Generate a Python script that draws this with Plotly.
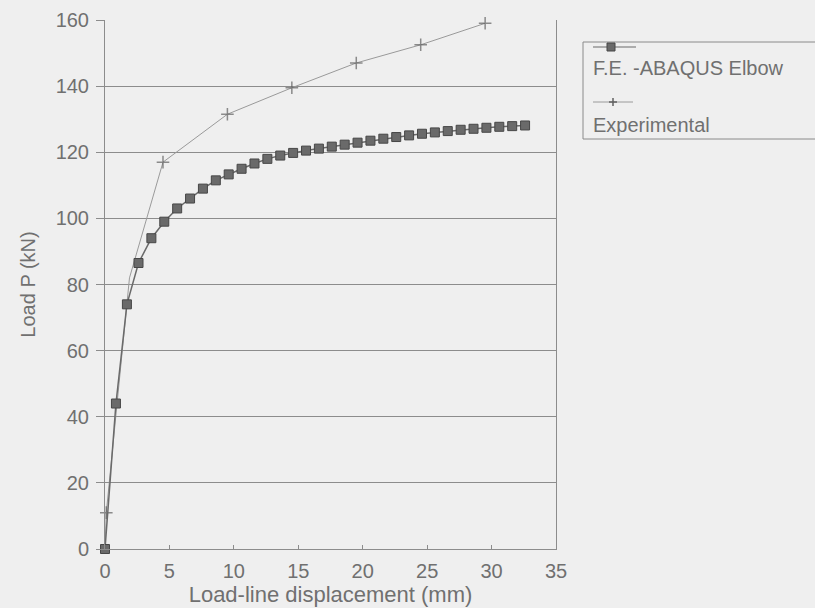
import plotly.graph_objects as go

# ---- data ----
fe_x = [0, 0.85, 1.7, 2.6, 3.6, 4.6, 5.6, 6.6, 7.6, 8.6, 9.6, 10.6, 11.6, 12.6,
        13.6, 14.6, 15.6, 16.6, 17.6, 18.6, 19.6, 20.6, 21.6, 22.6, 23.6, 24.6,
        25.6, 26.6, 27.6, 28.6, 29.6, 30.6, 31.6, 32.6]
fe_y = [0, 44, 74, 86.5, 94, 99, 103, 106, 109, 111.5, 113.3, 115, 116.6, 118,
        119, 119.8, 120.5, 121.1, 121.7, 122.3, 122.9, 123.5, 124.1, 124.6,
        125.1, 125.6, 126, 126.4, 126.8, 127.1, 127.4, 127.7, 127.9, 128.1]

exp_x = [0, 0.1, 1.9, 4.5, 9.5, 14.5, 19.5, 24.5, 29.5]
exp_y = [0, 11, 82, 117, 131.5, 139.5, 147, 152.5, 159]
exp_marked = [False, True, False, True, True, True, True, True, True]

x_ticks = [0, 5, 10, 15, 20, 25, 30, 35]
y_ticks = [0, 20, 40, 60, 80, 100, 120, 140, 160]

fe_name = "F.E. -ABAQUS Elbow"
exp_name = "Experimental"
x_title = "Load-line displacement (mm)"
y_title = "Load P (kN)"

# ---- layout geometry (page pixels; body margin removed in post_script) ----
W, H = 815, 608
L, R, T, B = 105, 556, 20, 549
def px(x):
    return (x - L) / (R - L)
def py(y):
    return (B - y) / (B - T)

FONT = "Liberation Sans, Arial, sans-serif"
TXT = "#707070"
GRID = "#8c8c8c"
BG = "#efefef"

fig = go.Figure()
fig.add_trace(go.Scatter(
    x=exp_x, y=exp_y, mode="lines+markers", name=exp_name,
    line=dict(color="#9a9a9a", width=1),
    marker=dict(symbol="cross-thin", size=[9 if m else 0 for m in exp_marked],
                line=dict(color="#606060", width=1.5), color="#606060"),
    cliponaxis=False, showlegend=False))
fig.add_trace(go.Scatter(
    x=fe_x, y=fe_y, mode="lines+markers", name=fe_name,
    line=dict(color="#6a6a6a", width=1.5),
    marker=dict(symbol="square", size=9, color="#6a6a6a",
                line=dict(color="#474747", width=1)),
    cliponaxis=False, showlegend=False))

fig.update_layout(
    width=W, height=H,
    margin=dict(l=L, r=W - R, t=T, b=H - B, autoexpand=False),
    paper_bgcolor=BG, plot_bgcolor=BG,
    font=dict(family=FONT, color=TXT, size=20),
    xaxis=dict(range=[0, 35], tickvals=x_ticks, ticks="inside", ticklen=4,
               tickcolor=GRID, showgrid=False, zeroline=False,
               showline=True, linecolor=GRID, linewidth=1,
               tickfont=dict(size=20, color=TXT), ticklabelstandoff=4,
               title=dict(text=x_title, font=dict(size=22, color=TXT), standoff=1)),
    yaxis=dict(range=[0, 160], tickvals=y_ticks, ticks="outside", ticklen=8,
               tickcolor=GRID, showgrid=True, gridcolor=GRID, gridwidth=1,
               zeroline=False, showline=True, linecolor=GRID, linewidth=1,
               mirror=True, tickfont=dict(size=20, color=TXT),
               ticklabelstandoff=3,
               title=dict(text=y_title, font=dict(size=20, color=TXT), standoff=14)),
)

# ---- manual legend (symbol line above its label, as in the reference) ----
shapes = [
    dict(type="rect", xref="paper", yref="paper", x0=px(583), x1=px(830),
         y0=py(139), y1=py(42), line=dict(color="#8a8a8a", width=1), fillcolor=BG,
         layer="below"),
    dict(type="line", xref="paper", yref="paper", x0=px(593), x1=px(636),
         y0=py(47), y1=py(47), line=dict(color="#6a6a6a", width=1.2)),
    dict(type="rect", xref="paper", yref="paper", x0=px(607), x1=px(615),
         y0=py(51), y1=py(43), line=dict(color="#474747", width=1),
         fillcolor="#6a6a6a"),
    dict(type="line", xref="paper", yref="paper", x0=px(593), x1=px(633),
         y0=py(102), y1=py(102), line=dict(color="#9a9a9a", width=1)),
    dict(type="line", xref="paper", yref="paper", x0=px(613), x1=px(613),
         y0=py(106), y1=py(98), line=dict(color="#606060", width=1.5)),
    dict(type="line", xref="paper", yref="paper", x0=px(609), x1=px(617),
         y0=py(102), y1=py(102), line=dict(color="#606060", width=1.5)),
]
annotations = [
    dict(xref="paper", yref="paper", x=px(591), y=py(68), text=fe_name,
         showarrow=False, xanchor="left", yanchor="middle",
         font=dict(family=FONT, size=20, color=TXT)),
    dict(xref="paper", yref="paper", x=px(591), y=py(125), text=exp_name,
         showarrow=False, xanchor="left", yanchor="middle",
         font=dict(family=FONT, size=20, color=TXT)),
]
fig.update_layout(shapes=shapes, annotations=annotations)

fig.write_html(
    "out.html",
    config={"displayModeBar": False},
    post_script="document.body.style.margin='0';"
                "document.body.style.overflow='hidden';"
                "document.documentElement.style.backgroundColor='%s';"
                "document.body.style.backgroundColor='%s';" % (BG, BG))
